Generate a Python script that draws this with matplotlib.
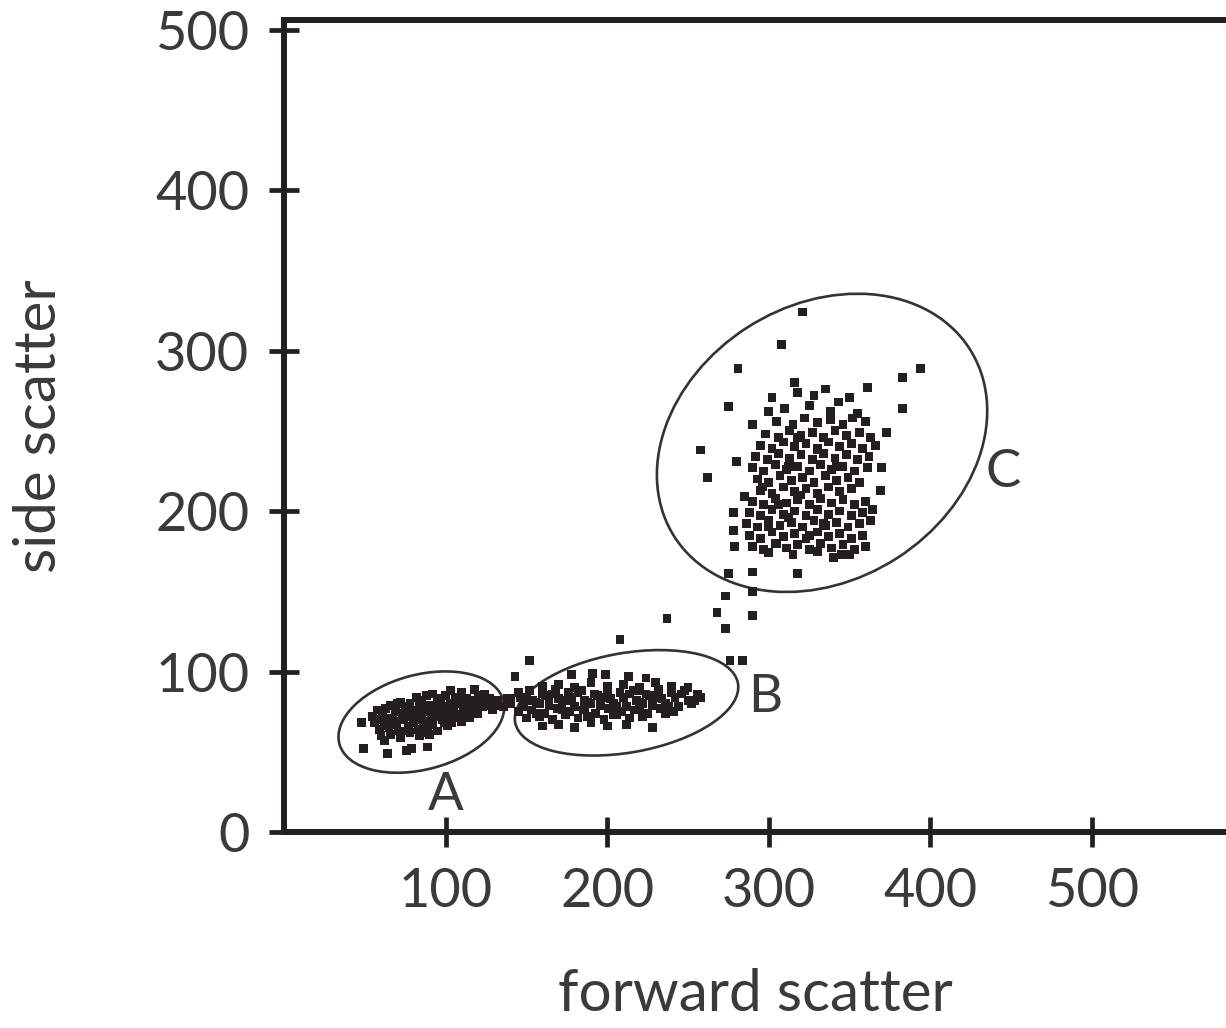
import matplotlib.pyplot as plt
from matplotlib.patches import Ellipse

plt.rcParams['font.family'] = ['Lato', 'DejaVu Sans']

# population A (small cells)
a_x = [103, 110, 118, 124, 82, 88, 95, 100, 106, 113, 120, 127, 92,
       66, 72, 78, 85, 90, 97, 103, 109, 115, 121, 126,
       58, 63, 69, 75, 81, 87, 93, 99, 105, 111, 117, 123,
       55, 61, 67, 73, 79, 85, 91, 97, 103, 109, 115, 120,
       56, 62, 68, 74, 80, 86, 92, 98, 104, 110,
       59, 65, 71, 77, 83, 89, 95, 101,
       60, 66, 72, 78, 84, 90,
       70, 76, 88, 94, 100, 112, 64, 82, 106, 118,
       70, 84, 96, 108, 76, 88, 100, 112, 64, 82, 94, 106,
       70, 88, 99, 76, 87, 118, 124, 60, 57,
       48, 49, 64, 76, 89, 62, 79]
a_y = [88, 87, 89, 86, 84, 85, 83, 85, 84, 83, 85, 83, 86,
       79, 81, 80, 82, 79, 81, 80, 82, 79, 81, 79,
       76, 77, 75, 78, 76, 77, 75, 78, 76, 77, 75, 78,
       72, 73, 71, 74, 72, 73, 71, 74, 72, 73, 71, 74,
       68, 69, 67, 70, 68, 69, 67, 70, 68, 69,
       64, 65, 63, 66, 64, 65, 63, 66,
       60, 61, 59, 62, 60, 61,
       69, 73, 77, 79, 71, 75, 66, 70, 80, 78,
       80, 79, 78, 80, 74, 75, 76, 75, 71, 71, 72, 71,
       67, 67, 68, 63, 62, 82, 84, 76, 70,
       68, 52, 49, 51, 53, 57, 52]

# population B (medium cells)
b_x = [178, 191, 199, 213, 224,
       160, 170, 180, 190, 200, 210, 220, 230, 240, 250,
       145, 152, 160, 168, 176, 184, 192, 200, 208, 216, 224, 232, 240, 248, 256,
       138, 146, 154, 162, 170, 178, 186, 194, 202, 210, 218, 226, 234, 242, 250, 258,
       132, 140, 148, 156, 164, 172, 180, 188, 196, 204, 212, 220, 228, 236, 244, 252,
       145, 153, 161, 169, 177, 185, 193, 201, 209, 217, 225, 233, 241,
       150, 158, 166, 174, 182, 190, 198, 206, 214, 222,
       160, 170, 180, 190, 200, 212, 228,
       150, 158, 166, 174, 182, 190, 198, 206, 214, 222, 230, 238, 246, 254,
       156, 172, 188, 204, 220, 236, 180, 200, 220, 240,
       128, 132, 136, 140, 129, 164, 196, 228, 204, 186]
b_y = [98, 99, 98, 97, 96,
       91, 92, 90, 93, 91, 92, 90, 93, 91, 90,
       87, 88, 86, 89, 87, 88, 86, 89, 87, 88, 86, 89, 87, 88, 86,
       83, 84, 82, 85, 83, 84, 82, 85, 83, 84, 82, 85, 83, 84, 82, 84,
       79, 80, 78, 81, 79, 80, 78, 81, 79, 80, 78, 81, 79, 80, 78, 80,
       75, 76, 74, 77, 75, 76, 74, 77, 75, 76, 74, 77, 75,
       71, 72, 70, 73, 71, 72, 70, 73, 71, 72,
       66, 67, 65, 68, 66, 67, 65,
       84, 80, 86, 82, 87, 80, 84, 78, 86, 80, 84, 78, 86, 82,
       74, 76, 72, 74, 76, 74, 90, 88, 88, 90,
       79, 82, 78, 83, 76, 84, 84, 83, 73, 77]

# events between B and C
mid_x = [152, 143, 208, 237, 273, 268, 273, 290, 290, 276, 284]
mid_y = [107, 97, 120, 133, 147, 137, 127, 135, 150, 107, 107]

# population C (large cells)
c_x = [321, 308, 281, 275, 258, 262, 280, 394, 383, 383, 361, 316, 302, 290,
       278, 278, 279, 285, 275, 290, 318, 340, 350, 370, 369, 361, 373,
       318, 328, 335, 343, 350, 325, 310, 338, 355, 300,
       305, 315, 322, 330, 338, 346, 352, 360,
       298, 306, 313, 320, 327, 334, 341, 348, 356, 363,
       295, 302, 309, 316, 323, 330, 337, 344, 351, 358, 366,
       292, 299, 306, 313, 320, 327, 334, 341, 348, 355, 362,
       290, 297, 304, 311, 318, 325, 332, 339, 346, 353,
       293, 300, 307, 314, 321, 328, 335, 342, 349, 356,
       295, 302, 309, 316, 323, 330, 337, 344, 351,
       290, 297, 304, 311, 318, 325, 332, 339, 346, 353, 360,
       288, 295, 302, 309, 316, 323, 330, 337, 344, 351, 358, 364,
       286, 293, 300, 307, 314, 321, 328, 335, 342, 349, 356, 363,
       288, 295, 302, 309, 316, 323, 330, 337, 344, 351, 358,
       290, 297, 304, 311, 318, 325, 332, 339, 346, 353, 360,
       300, 315, 330, 345,
       300, 312, 325, 306, 320, 334, 296, 312, 330, 318, 342, 305]
c_y = [324, 304, 289, 265, 238, 221, 231, 289, 283, 264, 277, 280, 271, 254,
       199, 188, 178, 209, 161, 162, 161, 171, 173, 227, 213, 227, 249,
       274, 272, 276, 268, 271, 266, 264, 262, 261, 262,
       256, 254, 258, 255, 257, 254, 258, 256,
       248, 246, 250, 247, 249, 246, 250, 247, 249, 246,
       241, 239, 243, 240, 242, 239, 243, 240, 242, 239, 241,
       234, 232, 236, 233, 235, 232, 236, 233, 235, 232, 234,
       227, 225, 229, 226, 228, 225, 229, 226, 228, 225,
       220, 218, 222, 219, 221, 218, 222, 219, 221, 218,
       213, 211, 215, 212, 214, 211, 215, 212, 214,
       206, 204, 208, 205, 207, 204, 208, 205, 207, 204, 206,
       199, 197, 201, 198, 200, 197, 201, 198, 200, 197, 199, 201,
       192, 190, 194, 191, 193, 190, 194, 191, 193, 190, 192, 194,
       185, 183, 187, 184, 186, 183, 187, 184, 186, 183, 185,
       178, 176, 180, 177, 179, 176, 180, 177, 179, 176, 178,
       174, 173, 175, 173,
       190, 196, 185, 204, 210, 192, 215, 228, 238, 246, 228, 180]

# gates: (center x, center y, width, height, angle)
gates = {"A": (85, 68.5, 105, 59, 15),
         "B": (212, 80.5, 140, 62, 10),
         "C": (333, 242.5, 217, 171, 33)}
gate_labels = {"A": (100, 23), "B": (298, 84), "C": (445, 224)}

ink = '#231f20'
txt = '#3a3a3a'

fig = plt.figure(figsize=(12.26, 10.28), dpi=100)
ax = fig.add_axes([284 / 1226, 1 - 832 / 1028, 1 - 284 / 1226, 812 / 1028])

for xs, ys in [(a_x, a_y), (b_x, b_y), (mid_x, mid_y), (c_x, c_y)]:
    ax.scatter(xs, ys, s=40, marker='s', color=ink, edgecolors='none', zorder=3)

for name, (cx, cy, w, h, ang) in gates.items():
    ax.add_patch(Ellipse((cx, cy), w, h, angle=ang, fill=False,
                         edgecolor='#333333', linewidth=1.9, zorder=2))
    lx, ly = gate_labels[name]
    ax.text(lx, ly, name, fontsize=38, color=txt, ha='center', va='center')

ax.set_xlim(0, 583)
ax.set_ylim(0, 506)
ax.set_xticks([100, 200, 300, 400, 500])
ax.set_yticks([0, 100, 200, 300, 400, 500])

ax.spines['right'].set_visible(False)
for side in ['left', 'bottom', 'top']:
    ax.spines[side].set_linewidth(4.3)
    ax.spines[side].set_color(ink)

ax.tick_params(direction='inout', length=22, width=3.4, color=ink,
               labelsize=39, labelcolor=txt, pad=14)

ax.set_xlabel('forward scatter', fontsize=42, color=txt)
ax.set_ylabel('side scatter', fontsize=42, color=txt)
ax.xaxis.set_label_coords(0.5, -0.168)
ax.yaxis.set_label_coords(-0.231, 0.5)

fig.savefig('out.png', dpi=100)
